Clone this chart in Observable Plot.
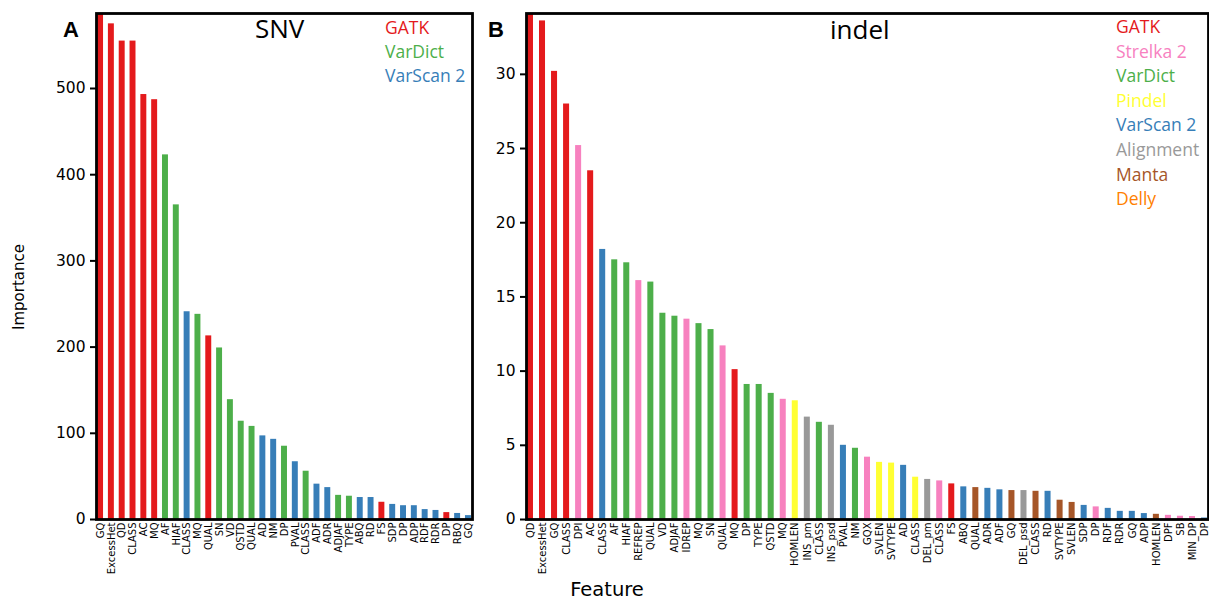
<!DOCTYPE html>
<html><head><meta charset="utf-8">
<script src="https://cdn.jsdelivr.net/npm/d3@7"></script>
<script src="https://cdn.jsdelivr.net/npm/@observablehq/plot@0.6"></script>
<style>
body{margin:0;background:#fff;}
#root{position:relative;width:1209px;height:600px;overflow:hidden;font-family:"DejaVu Sans",sans-serif;}
#root svg{position:absolute;top:0;}
.lab{position:absolute;white-space:nowrap;font-family:"Open Sans",sans-serif;line-height:1;}
</style></head><body><div id="root"></div>
<script>
// ---- Data ----
const callerNames = ["GATK","Strelka 2","VarDict","Pindel","VarScan 2","Alignment","Manta","Delly"];
const callerColors = ["#e41a1c","#f781bf","#4daf4a","#ffff33","#377eb8","#999999","#a65628","#ff7f00"];

const snvFeatures = ["GQ","ExcessHet","QD","CLASS","AC","MQ","AF","HIAF","CLASS","MQ","QUAL","SN","VD","QSTD","QUAL","AD","NM","DP","PVAL","CLASS","ADF","ADR","ADJAF","TYPE","ABQ","RD","FS","SDP","DP","ADP","RDF","RDR","DP","RBQ","GQ"];
const snvCallers = ["GATK","GATK","GATK","GATK","GATK","GATK","VarDict","VarDict","VarScan 2","VarDict","GATK","VarDict","VarDict","VarDict","VarDict","VarScan 2","VarScan 2","VarDict","VarScan 2","VarDict","VarScan 2","VarScan 2","VarDict","VarDict","VarScan 2","VarScan 2","GATK","VarScan 2","VarScan 2","VarScan 2","VarScan 2","VarScan 2","GATK","VarScan 2","VarScan 2"];
const snvValues = [595,575,555,555,493,487,423,365,241,238,213,199,139,114,108,97,93,85,67,56,41,37,28,27,25.5,25.5,20,17.5,16,16,11.5,10.5,8,7,4.5];
const snvLegend = ["GATK","VarDict","VarScan 2"];
const snvTicks = [0,100,200,300,400,500];

const indelFeatures = ["QD","ExcessHet","GQ","CLASS","DPI","AC","CLASS","AF","HIAF","REFREP","QUAL","VD","ADJAF","IDREP","MQ","SN","QUAL","MQ","DP","TYPE","QSTD","MQ","HOMLEN","INS_pm","CLASS","INS_psd","PVAL","NM","GQX","SVLEN","SVTYPE","AD","CLASS","DEL_pm","CLASS","FS","ABQ","QUAL","ADR","ADF","GQ","DEL_psd","CLASS","RD","SVTYPE","SVLEN","SDP","DP","RDF","RDR","GQ","ADP","HOMLEN","DPF","SB","MIN_DP","DP"];
const indelCallers = ["GATK","GATK","GATK","GATK","Strelka 2","GATK","VarScan 2","VarDict","VarDict","Strelka 2","VarDict","VarDict","VarDict","Strelka 2","VarDict","VarDict","Strelka 2","GATK","VarDict","VarDict","VarDict","Strelka 2","Pindel","Alignment","VarDict","Alignment","VarScan 2","VarDict","Strelka 2","Pindel","Pindel","VarScan 2","Pindel","Alignment","Strelka 2","GATK","VarScan 2","Manta","VarScan 2","VarScan 2","Manta","Alignment","Manta","VarScan 2","Manta","Manta","VarScan 2","Strelka 2","VarScan 2","VarScan 2","VarScan 2","VarScan 2","Manta","Strelka 2","Strelka 2","Strelka 2","VarScan 2"];
const indelValues = [34.5,33.6,30.2,28.0,25.2,23.5,18.2,17.5,17.3,16.1,16.0,13.9,13.7,13.5,13.2,12.8,11.7,10.1,9.1,9.1,8.5,8.1,8.0,6.9,6.55,6.35,5.0,4.8,4.2,3.85,3.8,3.65,2.85,2.7,2.6,2.4,2.2,2.15,2.1,2.0,1.95,1.95,1.9,1.9,1.3,1.15,0.95,0.85,0.75,0.55,0.55,0.4,0.35,0.28,0.22,0.2,0.1];
const indelLegend = ["GATK","Strelka 2","VarDict","Pindel","VarScan 2","Alignment","Manta","Delly"];
const indelTicks = [0,5,10,15,20,25,30];

const colorOf = Object.fromEntries(callerNames.map((n,i)=>[n, callerColors[i]]));
const root = document.getElementById("root");

function panel({features, callers, values, ticks, yMax, left, width, mL, mR, padIn, padOut}) {
  const rows = features.map((f,i)=>({i, f, v: values[i], c: callers[i]}));
  const svg = Plot.plot({
    width, height: 600,
    marginLeft: mL, marginRight: mR, marginTop: 13, marginBottom: 81,
    style: {fontFamily: "DejaVu Sans, sans-serif", fontSize: "15px", background: "transparent", color: "#000"},
    x: {domain: d3.range(features.length), paddingInner: padIn, paddingOuter: padOut, round: false, label: null},
    y: {domain: [0, yMax], label: null},
    color: {domain: callerNames, range: callerColors},
    marks: [
      Plot.barY(rows, {x: "i", y: "v", fill: "c", clip: true}),
      Plot.axisX({tickFormat: i => features[i], tickRotate: -90, tickSize: 0, tickPadding: 3, fontSize: 10, label: null}),
      Plot.axisY({ticks, tickSize: 6, tickPadding: 5, strokeWidth: 2, fontSize: 15.5, label: null}),
      Plot.frame({stroke: "#000", strokeWidth: 2.8})
    ]
  });
  svg.style.left = left + "px";
  root.appendChild(svg);
}

panel({features: snvFeatures, callers: snvCallers, values: snvValues, ticks: snvTicks, yMax: 587,
  left: 0, width: 480, mL: 96, mR: 8, padIn: 0.45, padOut: 0.1});
panel({features: indelFeatures, callers: indelCallers, values: indelValues, ticks: indelTicks, yMax: 34.1,
  left: 480, width: 729, mL: 46, mR: 1, padIn: 0.5, padOut: 0.08});

function label(text, x, y, css) {
  const d = document.createElement("div");
  d.className = "lab";
  d.textContent = text;
  d.style.left = x + "px"; d.style.top = y + "px";
  Object.assign(d.style, css || {});
  root.appendChild(d);
  return d;
}
// legends
snvLegend.forEach((n,k)=>label(n, 385, 19 + k*23.8, {color: colorOf[n], fontSize: "17.5px"}));
indelLegend.forEach((n,k)=>label(n, 1116, 18 + k*24.6, {color: colorOf[n], fontSize: "17.5px"}));
// titles
label("SNV", 255, 15, {fontSize: "26px", color: "#000"});
label("indel", 830, 16, {fontSize: "26px", color: "#000"});
// panel letters
label("A", 63, 19, {fontFamily: "Liberation Sans, sans-serif", fontWeight: "bold", fontSize: "22px"});
label("B", 488, 19, {fontFamily: "Liberation Sans, sans-serif", fontWeight: "bold", fontSize: "22px"});
// axis titles
label("Importance", 19, 287, {fontFamily: "DejaVu Sans, sans-serif", fontSize: "15px", transform: "translate(-50%,-50%) rotate(-90deg)"});
label("Feature", 607, 590, {fontFamily: "DejaVu Sans, sans-serif", fontSize: "19.5px", transform: "translate(-50%,-50%)"});
</script></body></html>
